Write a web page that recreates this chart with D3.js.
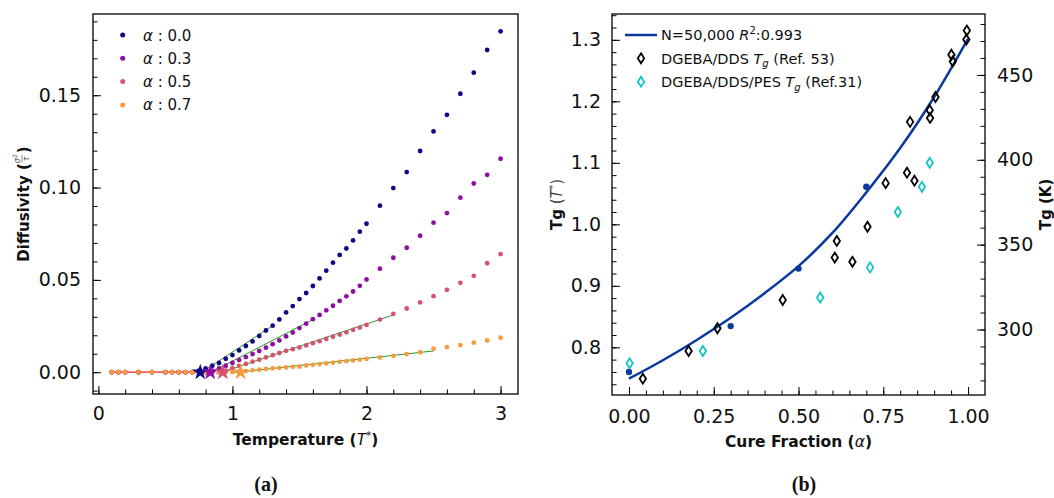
<!DOCTYPE html>
<html>
<head>
<meta charset="utf-8">
<script src="https://cdn.jsdelivr.net/npm/d3@7"></script>
<style>
body { margin: 0; background: #fff; }
svg text { font-family: "DejaVu Sans", sans-serif; }
</style>
</head>
<body>
<svg id="fig" width="1054" height="498" viewBox="0 0 1054 498"></svg>
<script>
// ---------- panel (a): diffusivity vs temperature
const temps = [0.1, 0.15, 0.2, 0.3, 0.4, 0.5,
	0.55, 0.6, 0.65, 0.7, 0.75, 0.8, 0.85, 0.9, 0.95, 1.0,
	1.05, 1.1, 1.15, 1.2, 1.25, 1.3, 1.35, 1.4, 1.45, 1.5,
	1.55, 1.6, 1.65, 1.7, 1.75, 1.8, 1.85, 1.9, 1.95, 2.0,
	2.1, 2.2, 2.3, 2.4, 2.5, 2.6, 2.7, 2.8, 2.9, 3.0];

const diff00 = [0, 0, 0, 0, 0, 0,
	0, 0, 0, 0, 0.0008, 0.002, 0.0035, 0.005, 0.0073, 0.0093,
	0.0118, 0.0142, 0.0167, 0.0196, 0.0226, 0.0252, 0.0286, 0.0324, 0.0358, 0.0396,
	0.0429, 0.0467, 0.0508, 0.0550, 0.0593, 0.0635, 0.0670, 0.0714, 0.0761, 0.0804,
	0.0902, 0.0997, 0.1084, 0.1198, 0.1304, 0.1394, 0.1508, 0.1622, 0.1745, 0.1846];

const diff03 = [0, 0, 0, 0, 0, 0,
	0, 0, 0, 0, 0, 0, 0.0008, 0.002, 0.0035, 0.005,
	0.0066, 0.0082, 0.0098, 0.0115, 0.0133, 0.0152, 0.0172, 0.0194, 0.0215, 0.0239,
	0.0263, 0.0287, 0.0310, 0.0335, 0.0360, 0.0386, 0.0411, 0.0437, 0.0468, 0.0502,
	0.0561, 0.0620, 0.0674, 0.0739, 0.0810, 0.0862, 0.0945, 0.1022, 0.1069, 0.1156];

const diff05 = [0, 0, 0, 0, 0, 0,
	0, 0, 0, 0, 0, 0, 0, 0, 0.0008, 0.0022,
	0.0034, 0.0045, 0.0057, 0.0068, 0.0080, 0.0092, 0.0104, 0.0116, 0.0125, 0.0134,
	0.0145, 0.0157, 0.0168, 0.0180, 0.0192, 0.0204, 0.0216, 0.0229, 0.0242, 0.0256,
	0.0285, 0.0316, 0.0345, 0.0378, 0.0412, 0.0446, 0.0484, 0.0522, 0.0590, 0.0640];

const diff07 = [0, 0, 0, 0, 0, 0,
	0, 0, 0, 0, 0, 0, 0, 0, 0, 0,
	0, 0.0006, 0.0010, 0.0014, 0.0018, 0.0021, 0.0024, 0.0026, 0.0029, 0.0031,
	0.0037, 0.0040, 0.0044, 0.0048, 0.0052, 0.0056, 0.0060, 0.0064, 0.0068, 0.0072,
	0.0080, 0.0089, 0.0098, 0.0108, 0.0127, 0.0136, 0.0147, 0.0160, 0.0172, 0.0187];

// simulated cure fractions and their Tg (stars in (a), dots in (b))
const alphaSim = [0.0, 0.3, 0.5, 0.7];
const tgSim = [0.760, 0.8345, 0.928, 1.061];

// linear fits above Tg (green) and below Tg (red)
const fitT0 = [0.74, 0.80, 0.88, 1.00];
const fitD0 = [-0.0015, -0.0015, -0.001, -0.0003];
const fitT1 = [1.30, 1.60, 2.20, 2.50];
const fitD1 = [0.0252, 0.0285, 0.031, 0.0115];
const lowT = [0.1, 0.75];
const lowD = [0, 0];

const tempTicks = [0, 1, 2, 3];
const diffTicks = [0, 0.05, 0.10, 0.15];

// ---------- panel (b): Tg vs cure fraction
const fitAlpha = [0, 0.1, 0.2, 0.3, 0.4, 0.5, 0.6, 0.7, 0.8, 0.9, 1.0];
const fitTg = [0.749, 0.779, 0.812, 0.848, 0.888, 0.932, 0.986, 1.052, 1.124, 1.207, 1.302];

const ref53Alpha = [0.041, 0.176, 0.261, 0.4535, 0.607, 0.613, 0.659, 0.7035, 0.757, 0.820,
	0.842, 0.829, 0.887, 0.888, 0.904, 0.951, 0.955, 0.9965, 0.995];
const ref53Tg = [0.749, 0.794, 0.831, 0.877, 0.946, 0.973, 0.939, 0.996, 1.067, 1.084,
	1.071, 1.1666, 1.1855, 1.173, 1.207, 1.2757, 1.2649, 1.315, 1.3005];

const ref31Alpha = [0.002, 0.218, 0.564, 0.711, 0.793, 0.864, 0.887];
const ref31Tg = [0.774, 0.794, 0.881, 0.930, 1.020, 1.061, 1.100];

const cureTicks = [0, 0.25, 0.5, 0.75, 1.0];
const tgTicks = [0.8, 0.9, 1.0, 1.1, 1.2, 1.3];
const kelvinTicks = [300, 350, 400, 450];

const seriesColors = ["#0d0887", "#8f0da4", "#d5536f", "#f99a3e"];
const fitBlue = "#0a3a9e";
const cyan = "#13c4c4";

const svg = d3.select("#fig");

function styleAxis(sel, size) {
	sel.select(".domain").remove();
	sel.attr("font-family", null).attr("font-size", null);
	sel.selectAll(".tick line").attr("stroke", "#000").attr("stroke-width", 1);
	sel.selectAll(".tick text").style("font-size", size + "px").attr("fill", "#111");
}

// ===== panel (a)
const boxA = {x0: 93, x1: 518, y0: 14, y1: 394};
const xA = d3.scaleLinear().domain([-0.04, 3.13]).range([boxA.x0, boxA.x1]);
const yA = d3.scaleLinear().domain([-0.0118, 0.194]).range([boxA.y1, boxA.y0]);
const gA = svg.append("g");

gA.append("g").attr("transform", `translate(0,${boxA.y1})`)
	.call(d3.axisBottom(xA).tickValues(d3.range(0, 3.01, 0.2)).tickSize(-4.5).tickFormat(""))
	.call(s => styleAxis(s, 19));
gA.append("g").attr("transform", `translate(0,${boxA.y1})`)
	.call(d3.axisBottom(xA).tickValues(tempTicks).tickSize(-8).tickPadding(13).tickFormat(d3.format("d")))
	.call(s => styleAxis(s, 19));
gA.append("g").attr("transform", `translate(${boxA.x0},0)`)
	.call(d3.axisLeft(yA).tickValues(d3.range(-0.01, 0.1905, 0.01)).tickSize(-4.5).tickFormat(""))
	.call(s => styleAxis(s, 19));
gA.append("g").attr("transform", `translate(${boxA.x0},0)`)
	.call(d3.axisLeft(yA).tickValues(diffTicks).tickSize(-8).tickPadding(12).tickFormat(d3.format(".2f")))
	.call(s => styleAxis(s, 19));

// fit lines
gA.append("line")
	.attr("x1", xA(lowT[0])).attr("y1", yA(lowD[0]))
	.attr("x2", xA(lowT[1])).attr("y2", yA(lowD[1]))
	.attr("stroke", "#e8201c").attr("stroke-width", 1.3);
alphaSim.forEach((a, i) => {
	gA.append("line")
		.attr("x1", xA(fitT0[i])).attr("y1", yA(fitD0[i]))
		.attr("x2", xA(fitT1[i])).attr("y2", yA(fitD1[i]))
		.attr("stroke", "#2a9a2a").attr("stroke-width", 1);
});

const diffSeries = [diff00, diff03, diff05, diff07];
diffSeries.forEach((vals, i) => {
	gA.append("g").selectAll("circle")
		.data(temps.map((t, j) => [t, vals[j]]))
		.enter().append("circle")
		.attr("cx", d => xA(d[0]))
		.attr("cy", d => yA(d[1]))
		.attr("r", 2.4)
		.attr("fill", seriesColors[i]);
});

const star = d3.symbol().type(d3.symbolStar).size(82);
gA.append("g").selectAll("path")
	.data(tgSim)
	.enter().append("path")
	.attr("d", star)
	.attr("transform", d => `translate(${xA(d)},${yA(0)})`)
	.attr("fill", (d, i) => seriesColors[i]);

// legend (a)
const legA = gA.append("g");
alphaSim.forEach((a, i) => {
	const y = 35 + i * 23.3;
	legA.append("circle").attr("cx", 122.7).attr("cy", y).attr("r", 2.5).attr("fill", seriesColors[i]);
	const t = legA.append("text").attr("x", 143).attr("y", y + 5.5).style("font-size", "15px").attr("fill", "#111");
	t.append("tspan").style("font-style", "italic").text("α");
	t.append("tspan").text(" : " + d3.format(".1f")(a));
});

gA.append("rect")
	.attr("x", boxA.x0).attr("y", boxA.y0)
	.attr("width", boxA.x1 - boxA.x0).attr("height", boxA.y1 - boxA.y0)
	.attr("fill", "none").attr("stroke", "#000").attr("stroke-width", 1.3);

// x label (a)
const xlabA = gA.append("text")
	.attr("x", (boxA.x0 + boxA.x1) / 2).attr("y", 445)
	.attr("text-anchor", "middle").style("font-size", "15.5px").attr("fill", "#111");
xlabA.append("tspan").style("font-weight", "bold").text("Temperature (");
xlabA.append("tspan").style("font-style", "italic").text("T");
xlabA.append("tspan").attr("dy", -6).style("font-size", "10px").text("*");
xlabA.append("tspan").attr("dy", 6).style("font-weight", "bold").text(")");

// y label (a) with small stacked fraction
const ylabA = gA.append("g").attr("transform", `translate(23.5,${(boxA.y0 + boxA.y1) / 2}) rotate(-90)`);
const yTxt = ylabA.append("text").attr("y", 5.5).style("font-size", "15px").style("font-weight", "bold").attr("fill", "#111").text("Diffusivity (");
const w1 = yTxt.node().getComputedTextLength();
const fracW = 9;
const yClose = ylabA.append("text").attr("x", w1 + fracW + 1).attr("y", 5.5).style("font-size", "15px").style("font-weight", "bold").attr("fill", "#111").text(")");
const wAll = w1 + fracW + 1 + yClose.node().getComputedTextLength();
const fx = w1 + fracW / 2;
const num = ylabA.append("text").attr("x", fx).attr("y", -3.5).attr("text-anchor", "middle").style("font-size", "8px").attr("fill", "#555");
num.append("tspan").style("font-style", "italic").text("σ");
num.append("tspan").attr("dy", -3).style("font-size", "6px").text("2");
ylabA.append("line").attr("x1", w1 + 0.5).attr("x2", w1 + fracW - 0.5).attr("y1", -1.5).attr("y2", -1.5).attr("stroke", "#666").attr("stroke-width", 0.7);
ylabA.append("text").attr("x", fx).attr("y", 5.5).attr("text-anchor", "middle").style("font-size", "8px").style("font-style", "italic").attr("fill", "#555").text("τ");
ylabA.selectAll("*").attr("transform", `translate(${-wAll / 2},0)`);

// ===== panel (b)
const boxB = {x0: 612, x1: 985, y0: 14, y1: 395};
const xB = d3.scaleLinear().domain([-0.05, 1.05]).range([boxB.x0, boxB.x1]);
const yB = d3.scaleLinear().domain([0.7225, 1.342]).range([boxB.y1, boxB.y0]);
const yK = d3.scaleLinear().domain([261.4, 485.9]).range([boxB.y1, boxB.y0]);
const gB = svg.append("g");

gB.append("g").attr("transform", `translate(0,${boxB.y1})`)
	.call(d3.axisBottom(xB).tickValues(d3.range(0, 1.001, 0.05)).tickSize(-4.5).tickFormat(""))
	.call(s => styleAxis(s, 19));
gB.append("g").attr("transform", `translate(0,${boxB.y1})`)
	.call(d3.axisBottom(xB).tickValues(cureTicks).tickSize(-8).tickPadding(15).tickFormat(d3.format(".2f")))
	.call(s => styleAxis(s, 19));
gB.append("g").attr("transform", `translate(${boxB.x0},0)`)
	.call(d3.axisLeft(yB).tickValues(d3.range(0.74, 1.341, 0.02)).tickSize(-4.5).tickFormat(""))
	.call(s => styleAxis(s, 19));
gB.append("g").attr("transform", `translate(${boxB.x0},0)`)
	.call(d3.axisLeft(yB).tickValues(tgTicks).tickSize(-8).tickPadding(11).tickFormat(d3.format(".1f")))
	.call(s => styleAxis(s, 19));
gB.append("g").attr("transform", `translate(${boxB.x1},0)`)
	.call(d3.axisRight(yK).tickValues(d3.range(270, 481, 10)).tickSize(-4.5).tickFormat(""))
	.call(s => styleAxis(s, 19));
gB.append("g").attr("transform", `translate(${boxB.x1},0)`)
	.call(d3.axisRight(yK).tickValues(kelvinTicks).tickSize(-8).tickPadding(12).tickFormat(d3.format("d")))
	.call(s => styleAxis(s, 19));

const fitLine = d3.line().x(d => xB(d[0])).y(d => yB(d[1])).curve(d3.curveCatmullRom);
gB.append("path")
	.datum(fitAlpha.map((a, i) => [a, fitTg[i]]))
	.attr("d", fitLine)
	.attr("fill", "none").attr("stroke", fitBlue).attr("stroke-width", 2.5);

gB.append("g").selectAll("circle")
	.data(alphaSim.map((a, i) => [a, tgSim[i]]))
	.enter().append("circle")
	.attr("cx", d => xB(d[0])).attr("cy", d => yB(d[1]))
	.attr("r", 3.2).attr("fill", fitBlue);

const diamond = "M0,-5 L3.2,0 L0,5 L-3.2,0 Z";
function diamonds(alphas, tgs, color) {
	gB.append("g").selectAll("path")
		.data(alphas.map((a, i) => [a, tgs[i]]))
		.enter().append("path")
		.attr("d", diamond)
		.attr("transform", d => `translate(${xB(d[0])},${yB(d[1])})`)
		.attr("fill", "none").attr("stroke", color).attr("stroke-width", 1.8);
}
diamonds(ref53Alpha, ref53Tg, "#000");
diamonds(ref31Alpha, ref31Tg, cyan);

gB.append("rect")
	.attr("x", boxB.x0).attr("y", boxB.y0)
	.attr("width", boxB.x1 - boxB.x0).attr("height", boxB.y1 - boxB.y0)
	.attr("fill", "none").attr("stroke", "#000").attr("stroke-width", 1.3);

// legend (b)
const legB = gB.append("g");
legB.append("line").attr("x1", 625).attr("x2", 657).attr("y1", 35).attr("y2", 35).attr("stroke", fitBlue).attr("stroke-width", 2.5);
legB.append("path").attr("d", diamond).attr("transform", "translate(641,58.3)").attr("fill", "none").attr("stroke", "#000").attr("stroke-width", 1.8);
legB.append("path").attr("d", diamond).attr("transform", "translate(641,81.7)").attr("fill", "none").attr("stroke", cyan).attr("stroke-width", 1.8);

function legText(y) {
	return legB.append("text").attr("x", 661).attr("y", y + 5.3).style("font-size", "14.5px").attr("fill", "#111");
}
const l1 = legText(35);
l1.append("tspan").text("N=50,000 ");
l1.append("tspan").style("font-style", "italic").text("R");
l1.append("tspan").attr("dy", -6).style("font-size", "10px").text("2");
l1.append("tspan").attr("dy", 6).text(":0.993");
[["DGEBA/DDS ", " (Ref. 53)", 58.3], ["DGEBA/DDS/PES ", " (Ref.31)", 81.7]].forEach(r => {
	const t = legText(r[2]);
	t.append("tspan").text(r[0]);
	t.append("tspan").style("font-style", "italic").text("T");
	t.append("tspan").attr("dy", 3.5).style("font-size", "10px").style("font-style", "italic").text("g");
	t.append("tspan").attr("dy", -3.5).text(r[1]);
});

// axis labels (b)
const xlabB = gB.append("text")
	.attr("x", (boxB.x0 + boxB.x1) / 2).attr("y", 447)
	.attr("text-anchor", "middle").style("font-size", "15.5px").attr("fill", "#111");
xlabB.append("tspan").style("font-weight", "bold").text("Cure Fraction (");
xlabB.append("tspan").style("font-style", "italic").text("α");
xlabB.append("tspan").style("font-weight", "bold").text(")");

const ylabB = gB.append("text")
	.attr("transform", `translate(557,${(boxB.y0 + boxB.y1) / 2}) rotate(-90)`)
	.attr("y", 4.5).attr("text-anchor", "middle").style("font-size", "15px").attr("fill", "#111");
ylabB.append("tspan").style("font-weight", "bold").text("Tg");
ylabB.append("tspan").attr("fill", "#444").text(" (");
ylabB.append("tspan").attr("fill", "#444").style("font-style", "italic").text("T");
ylabB.append("tspan").attr("fill", "#444").attr("dy", -6).style("font-size", "9px").text("*");
ylabB.append("tspan").attr("fill", "#444").attr("dy", 6).text(")");

gB.append("text")
	.attr("transform", `translate(1046,${(boxB.y0 + boxB.y1) / 2}) rotate(-90)`)
	.attr("y", 5).attr("text-anchor", "middle")
	.style("font-size", "15px").style("font-weight", "bold").attr("fill", "#111")
	.text("Tg (K)");

// sub-figure captions
[["(a)", 266], ["(b)", 804]].forEach(c => {
	svg.append("text").attr("x", c[1]).attr("y", 491).attr("text-anchor", "middle")
		.style("font-family", "'Liberation Serif', serif").style("font-weight", "bold")
		.style("font-size", "20px").attr("fill", "#111").text(c[0]);
});
</script>
</body>
</html>
